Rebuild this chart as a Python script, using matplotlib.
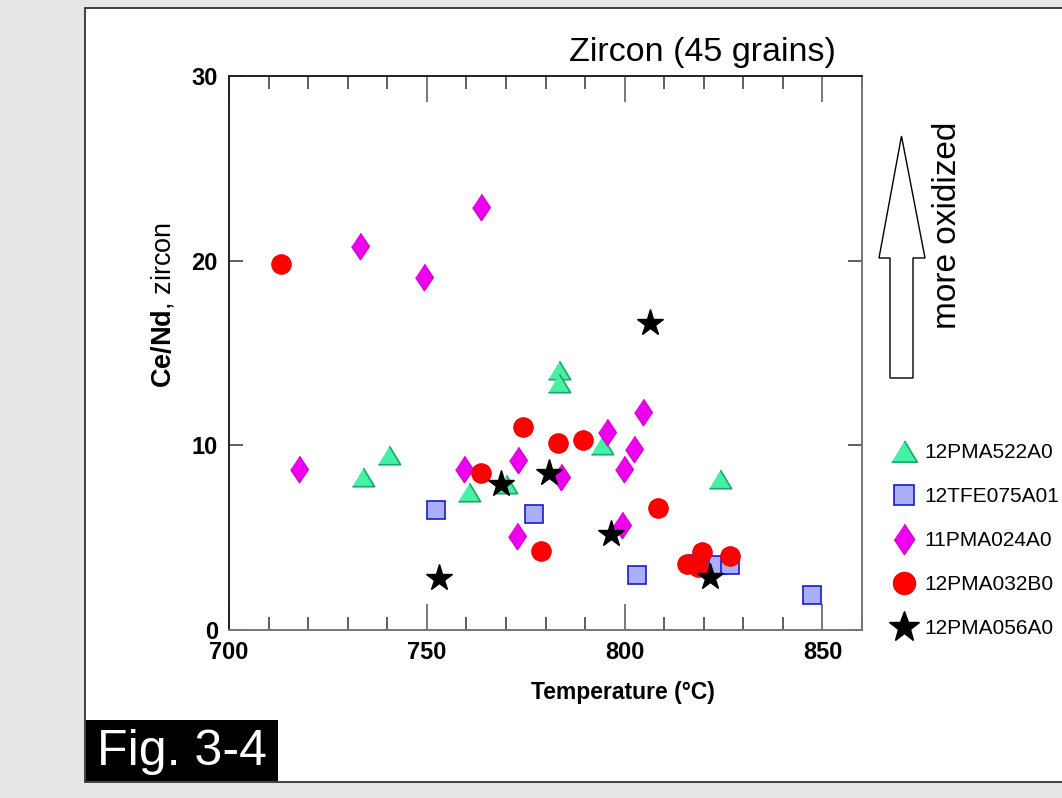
import matplotlib
matplotlib.use("Agg")
import matplotlib.pyplot as plt
from matplotlib.patches import Rectangle, Polygon
from matplotlib.ticker import MultipleLocator

plt.rcParams['font.family'] = ['Liberation Sans', 'DejaVu Sans']
plt.rcParams['mathtext.fontset'] = 'custom'
plt.rcParams['mathtext.rm'] = 'Liberation Sans'
plt.rcParams['mathtext.bf'] = 'Liberation Sans:bold'

# data: temperature (°C) and Ce/Nd in zircon
# sample names as far as they are visible (the page cuts them off on the right)
samples = ["12PMA522A0", "12TFE075A01", "11PMA024A0", "12PMA032B0", "12PMA056A0"]

t_522 = [733.9, 740.5, 760.7, 770.1, 783.3, 783.5, 794.3, 824.0]
r_522 = [8.3, 9.5, 7.5, 7.9, 14.1, 13.4, 10.0, 8.2]

t_075 = [752.2, 777.2, 803.2, 818.6, 823.6, 826.7, 847.3]
r_075 = [6.5, 6.3, 3.0, 3.6, 3.5, 3.5, 1.9]

t_024 = [717.6, 733.0, 749.4, 763.8, 759.5, 773.0, 772.7, 784.0, 795.5, 802.3, 799.9, 804.6, 799.3]
r_024 = [8.7, 20.8, 19.1, 22.9, 8.7, 9.2, 5.1, 8.3, 10.7, 9.8, 8.7, 11.8, 5.7]

t_032 = [713.2, 774.4, 783.1, 789.6, 763.7, 778.8, 808.5, 815.8, 818.6, 819.5, 826.6]
r_032 = [19.8, 11.0, 10.1, 10.3, 8.5, 4.3, 6.6, 3.6, 3.4, 4.2, 4.0]

t_056 = [753.2, 768.8, 780.8, 806.3, 796.6, 821.7]
r_056 = [2.8, 7.9, 8.5, 16.6, 5.2, 2.85]

W, H = 1062, 798


def fx(px):
    return px / W


def fy(py):
    return 1 - py / H


fig = plt.figure(figsize=(W / 100, H / 100), dpi=100, facecolor="#e6e6e6")

# white page panel and the "Fig. 3-4" tag
fig.patches.append(Rectangle((fx(85), fy(782)), fx(1000), 774 / H, transform=fig.transFigure,
                             facecolor="white", edgecolor="#222222", lw=1.2, zorder=-5))
fig.patches.append(Rectangle((fx(86), fy(781)), fx(192), 61 / H, transform=fig.transFigure,
                             facecolor="black", edgecolor="none", zorder=-4))
fig.text(fx(182), fy(752), "Fig. 3-4", color="white", fontsize=36, ha="center", va="center")

ax = fig.add_axes([fx(229), fy(630), 633 / W, 554 / H])
ax.set_facecolor("white")

tri = [(0, 0.83), (1, -0.83), (-1, -0.83)]
dia = [(0, 1), (0.67, 0), (0, -1), (-0.67, 0)]

ax.plot(t_522, r_522, ls="none", marker=tri, ms=16, mfc="#46f0a4", mec="#1aa866", mew=1.2, label=samples[0])
ax.plot(t_075, r_075, ls="none", marker="s", ms=13, mfc="#aab0f8", mec="#1a1acc", mew=1.2, label=samples[1])
ax.plot(t_024, r_024, ls="none", marker=dia, ms=19, mfc="#ee00ee", mec="#d000d0", mew=1, label=samples[2])
ax.plot(t_032, r_032, ls="none", marker="o", ms=14, mfc="#ff0000", mec="#ee0000", mew=0.8, label=samples[3])
ax.plot(t_056, r_056, ls="none", marker="*", ms=20, mfc="black", mec="black", label=samples[4])

ax.set_xlim(700, 860)
ax.set_ylim(0, 30)
ax.set_xticks([700, 750, 800, 850])
ax.xaxis.set_minor_locator(MultipleLocator(10))
ax.set_yticks([0, 10, 20, 30])
ax.tick_params(axis="x", which="major", direction="in", length=19, width=1.1, color="#555555",
               top=True, labelsize=17, pad=8)
ax.tick_params(axis="x", which="minor", direction="in", length=9.5, width=1.1, color="#333333", top=True)
ax.tick_params(axis="y", which="major", direction="in", length=10, width=1.1, color="#333333",
               right=True, labelsize=17, pad=8)
for lab in ax.get_xticklabels() + ax.get_yticklabels():
    lab.set_fontweight("bold")
for side in ["left", "top"]:
    ax.spines[side].set_color("#222222")
for side in ["bottom", "right"]:
    ax.spines[side].set_color("#777777")
for sp in ax.spines.values():
    sp.set_linewidth(1.4)

fig.text(fx(623), fy(692), "Temperature (°C)", fontsize=16.5, fontweight="bold", ha="center", va="center")
fig.text(fx(163), fy(305), r"$\mathbf{Ce/Nd}$, zircon", fontsize=19.5, rotation=90, ha="center", va="center")
fig.text(fx(702), fy(52), "Zircon (45 grains)", fontsize=24.5, ha="center", va="center")

# hollow "more oxidized" arrow
arrow_px = [(901.5, 136), (925, 258), (913, 258), (913, 378), (890, 378), (890, 258), (879, 258)]
fig.patches.append(Polygon([(fx(x), fy(y)) for x, y in arrow_px], closed=True, transform=fig.transFigure,
                           facecolor="white", edgecolor="black", lw=1, zorder=2))
fig.text(fx(948), fy(225), "more oxidized", fontsize=24, rotation=90, ha="center", va="center")

ax.legend(loc="upper left", bbox_to_anchor=(fx(894), fy(443)), bbox_transform=fig.transFigure,
          frameon=False, fontsize=15, handlelength=1.0, handletextpad=0.45, borderpad=0,
          borderaxespad=0, labelspacing=1.2, markerscale=1.15)

fig.savefig("out.png", dpi=100, facecolor=fig.get_facecolor())
